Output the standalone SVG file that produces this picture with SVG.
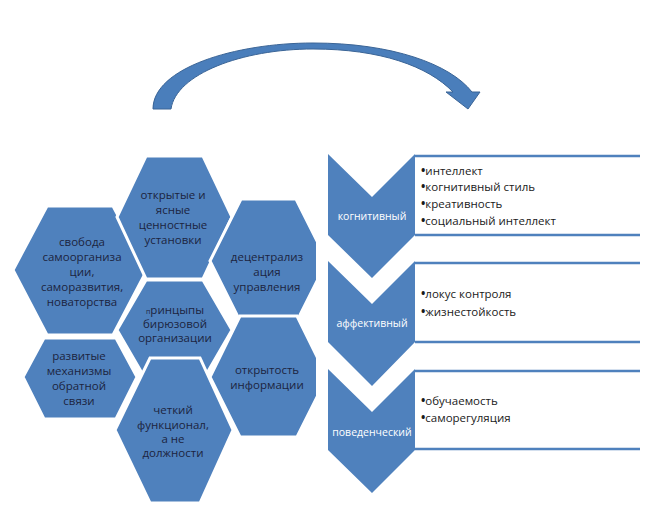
<svg xmlns="http://www.w3.org/2000/svg" width="649" height="518" viewBox="0 0 649 518">
<style>
.hex{fill:#4F81BD;stroke:#fff;stroke-width:3;stroke-linejoin:miter}
.chev{fill:#4F81BD}
.ht{font-family:"Open Sans","Liberation Sans",sans-serif;font-size:11.5px;fill:#1C2440;text-anchor:middle}
.ct{font-family:"Open Sans","Liberation Sans",sans-serif;font-size:10.5px;fill:#fff;text-anchor:middle}
.bt{font-family:"Open Sans","Liberation Sans",sans-serif;font-size:11.5px;fill:#1a1a1a}
.bu{font-weight:bold}
.ln{stroke:#4F81BD;stroke-width:2.5}
</style>
<defs>
<clipPath id="clipR"><rect x="0" y="0" width="316" height="518"/></clipPath>
</defs>
<rect width="649" height="518" fill="#fff"/>
<g id="connectors">
<path d="M153,109 C153,68 235,43 313,43 C392,43 450,64 472,92 L480,92 L468,109 L446,92 L453,92 C428,66 380,49 313,49 C242,49 176,74 171,109 Z" fill="#4A7EBB" stroke="#3A6496" stroke-width="1"/>
</g>
<g id="hexes" clip-path="url(#clipR)">
<g id="hex-razvitye">
<polygon class="hex" points="23,377 44,338 116,338 137,377 116,419 44,419"/>
<text class="ht" x="79" y="360">развитые</text>
<text class="ht" x="79" y="375">механизмы</text>
<text class="ht" x="79" y="390">обратной</text>
<text class="ht" x="79" y="405">связи</text>
</g>
<g id="hex-svoboda">
<polygon class="hex" points="13,270 47,206 113,206 147,270 113,335 47,335"/>
<text class="ht" x="82" y="246">свобода</text>
<text class="ht" x="82" y="261">самоорганиза</text>
<text class="ht" x="82" y="276">ции,</text>
<text class="ht" x="82" y="291">саморазвития,</text>
<text class="ht" x="82" y="306">новаторства</text>
</g>
<g id="hex-otkrytye">
<polygon class="hex" points="117,217 146,156 203,156 232,217 203,279 146,279"/>
<text class="ht" x="173" y="199">открытые и</text>
<text class="ht" x="173" y="214">ясные</text>
<text class="ht" x="173" y="229">ценностные</text>
<text class="ht" x="173" y="244">установки</text>
</g>
<g id="hex-decentr">
<polygon class="hex" points="210,261 241,199 296,199 327,261 296,323 241,323"/>
<text class="ht" x="267" y="261">децентрализ</text>
<text class="ht" x="267" y="276">ация</text>
<text class="ht" x="267" y="291">управления</text>
</g>
<g id="hex-principy">
<polygon class="hex" points="117,330 146,280 203,280 232,330 203,380 146,380"/>
<text class="ht" x="175" y="314"><tspan font-size="7">п</tspan>ринцыпы</text>
<text class="ht" x="175" y="328">бирюзовой</text>
<text class="ht" x="175" y="342">организации</text>
</g>
<g id="hex-otkrytost">
<polygon class="hex" points="210,377 240,316 297,316 327,377 297,437 240,437"/>
<text class="ht" x="267" y="374">открытость</text>
<text class="ht" x="267" y="389">информации</text>
</g>
<g id="hex-chetkiy">
<polygon class="hex" points="115,430 150,358 200,358 233,430 200,503 150,503"/>
<text class="ht" x="173" y="414">четкий</text>
<text class="ht" x="173" y="429">функционал,</text>
<text class="ht" x="173" y="443">а не</text>
<text class="ht" x="173" y="457">должности</text>
</g>
</g>
<g id="lines">
<line class="ln" x1="415" y1="156" x2="640" y2="156"/>
<line class="ln" x1="415" y1="235" x2="640" y2="235"/>
<line class="ln" x1="415" y1="263" x2="640" y2="263"/>
<line class="ln" x1="415" y1="342" x2="640" y2="342"/>
<line class="ln" x1="415" y1="371" x2="640" y2="371"/>
<line class="ln" x1="415" y1="449" x2="640" y2="449"/>
</g>
<g id="chev-kognitivny">
<polygon class="chev" points="328,154 372,197 415,154 415,235 372,278 328,235"/>
<text class="ct" x="372" y="220">когнитивный</text>
</g>
<g id="box-kognitivny">
<text class="bt" x="421" y="175"><tspan class="bu">•</tspan>интеллект</text>
<text class="bt" x="421" y="191"><tspan class="bu">•</tspan>когнитивный стиль</text>
<text class="bt" x="421" y="208"><tspan class="bu">•</tspan>креативность</text>
<text class="bt" x="421" y="225"><tspan class="bu">•</tspan>социальный интеллект</text>
</g>
<g id="chev-affektivny">
<polygon class="chev" points="328,261 372,304 415,261 415,342 372,386 328,342"/>
<text class="ct" x="372" y="327">аффективный</text>
</g>
<g id="box-affektivny">
<text class="bt" x="421" y="298"><tspan class="bu">•</tspan>локус контроля</text>
<text class="bt" x="421" y="316"><tspan class="bu">•</tspan>жизнестойкость</text>
</g>
<g id="chev-povedencheskiy">
<polygon class="chev" points="328,369 372,412 415,369 415,450 372,493 328,450"/>
<text class="ct" x="372" y="436">поведенческий</text>
</g>
<g id="box-povedencheskiy">
<text class="bt" x="421" y="405"><tspan class="bu">•</tspan>обучаемость</text>
<text class="bt" x="421" y="422"><tspan class="bu">•</tspan>саморегуляция</text>
</g>
</svg>
